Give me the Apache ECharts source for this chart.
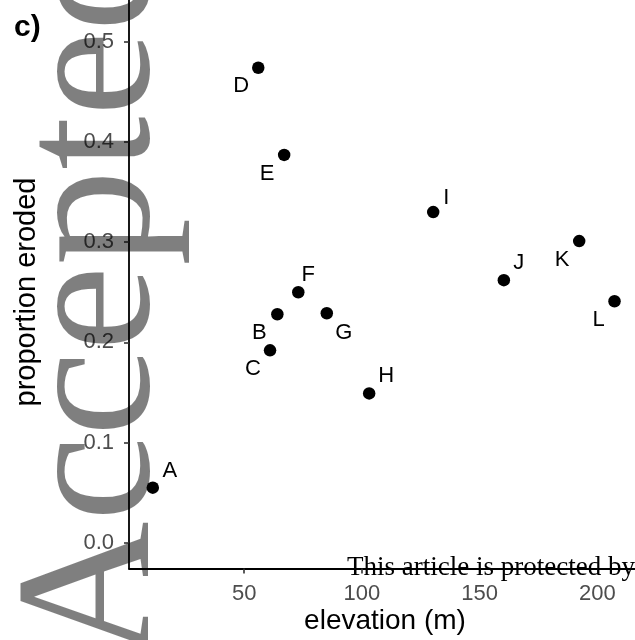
<!DOCTYPE html>
<html>
<head>
<meta charset="utf-8">
<script src="https://cdn.jsdelivr.net/npm/echarts@6/dist/echarts.min.js"></script>
<style>
html,body{margin:0;padding:0;background:#fff;}
#chart{width:635px;height:640px;}
</style>
</head>
<body>
<div id="chart"></div>
<script>
// ---- data ----
const siteNames = ['A','B','C','D','E','F','G','H','I','J','K','L'];
const elevation = [11.2, 64.1, 61.0, 56.0, 67.0, 73.0, 85.1, 103.1, 130.3, 160.3, 192.3, 207.3];
const proportionEroded = [0.055, 0.228, 0.192, 0.474, 0.387, 0.250, 0.229, 0.149, 0.330, 0.262, 0.301, 0.241];
const xTickValues = [50, 100, 150, 200];
const yTickValues = [0.0, 0.1, 0.2, 0.3, 0.4, 0.5];

// label placement (ggrepel-like nudges), layout only
const labelNudge = [[17,-17],[-18,19],[-17,19],[-17,18],[-17,19],[10,-17],[17,20],[17,-17],[13,-14],[15,-17],[-17,19],[-16,19]];

const chart = echarts.init(document.getElementById('chart'), null, {renderer:'canvas'});
const sans = '"Liberation Sans", Arial, sans-serif';
const serif = '"Liberation Serif", "Times New Roman", serif';

const option = {
  animation: false,
  backgroundColor: '#ffffff',
  grid: {left: 129, right: 0, top: 0, bottom: 71.5, containLabel: false, outerBoundsMode: 'none'},
  xAxis: {
    type: 'value', min: 1.1, max: 216,
    splitLine: {show: false},
    axisLine: {show: true, onZero: false, lineStyle: {color: '#000', width: 1.8}},
    axisTick: {show: true, customValues: xTickValues, length: 5, lineStyle: {color: '#333', width: 1.6}},
    axisLabel: {show: true, customValues: xTickValues, fontSize: 22, color: '#4d4d4d', fontFamily: sans, margin: 14}
  },
  yAxis: {
    type: 'value', min: -0.0257, max: 0.5416,
    splitLine: {show: false},
    axisLine: {show: true, onZero: false, lineStyle: {color: '#000', width: 1.8}},
    axisTick: {show: true, customValues: yTickValues, length: 5, lineStyle: {color: '#333', width: 1.6}},
    axisLabel: {show: true, customValues: yTickValues, fontSize: 22, color: '#4d4d4d', fontFamily: sans, margin: 15,
      formatter: v => v.toFixed(1)}
  },
  series: [{
    type: 'scatter',
    symbol: 'circle',
    symbolSize: 12.5,
    itemStyle: {color: '#000', opacity: 1},
    emphasis: {disabled: true},
    label: {show: true, position: 'inside', formatter: '{b}', fontSize: 22, color: '#000', opacity: 1, fontFamily: sans},
    data: siteNames.map((n, i) => ({
      name: n,
      value: [elevation[i], proportionEroded[i]],
      label: {offset: labelNudge[i]}
    }))
  }],
  graphic: [
    {type: 'text', left: 14, top: 13, z: 100,
     style: {text: 'c)', font: 'bold 30px ' + sans, fill: '#000'}},
    {type: 'text', x: 385, y: 621, z: 100,
     style: {text: 'elevation (m)', font: '28px ' + sans, fill: '#000', align: 'center', verticalAlign: 'middle', textAlign: 'center', textVerticalAlign: 'middle'}},
    {type: 'text', x: 27, y: 292, rotation: Math.PI/2, z: 100,
     style: {text: 'proportion eroded', font: '29px ' + sans, fill: '#000', align: 'center', verticalAlign: 'middle', textAlign: 'center', textVerticalAlign: 'middle'}},
    {type: 'text', x: 98, y: 660, rotation: Math.PI/2, z: 200,
     style: {text: 'Accepted', font: '192px ' + serif, fill: 'rgba(0,0,0,0.5)', align: 'left', verticalAlign: 'middle', textAlign: 'left', textVerticalAlign: 'middle'}},
    {type: 'text', x: 347, y: 568, z: 300,
     style: {text: 'This article is protected by', font: '27px ' + serif, fill: '#000', align: 'left', verticalAlign: 'middle', textAlign: 'left', textVerticalAlign: 'middle'}}
  ]
};
chart.setOption(option);
</script>
</body>
</html>
